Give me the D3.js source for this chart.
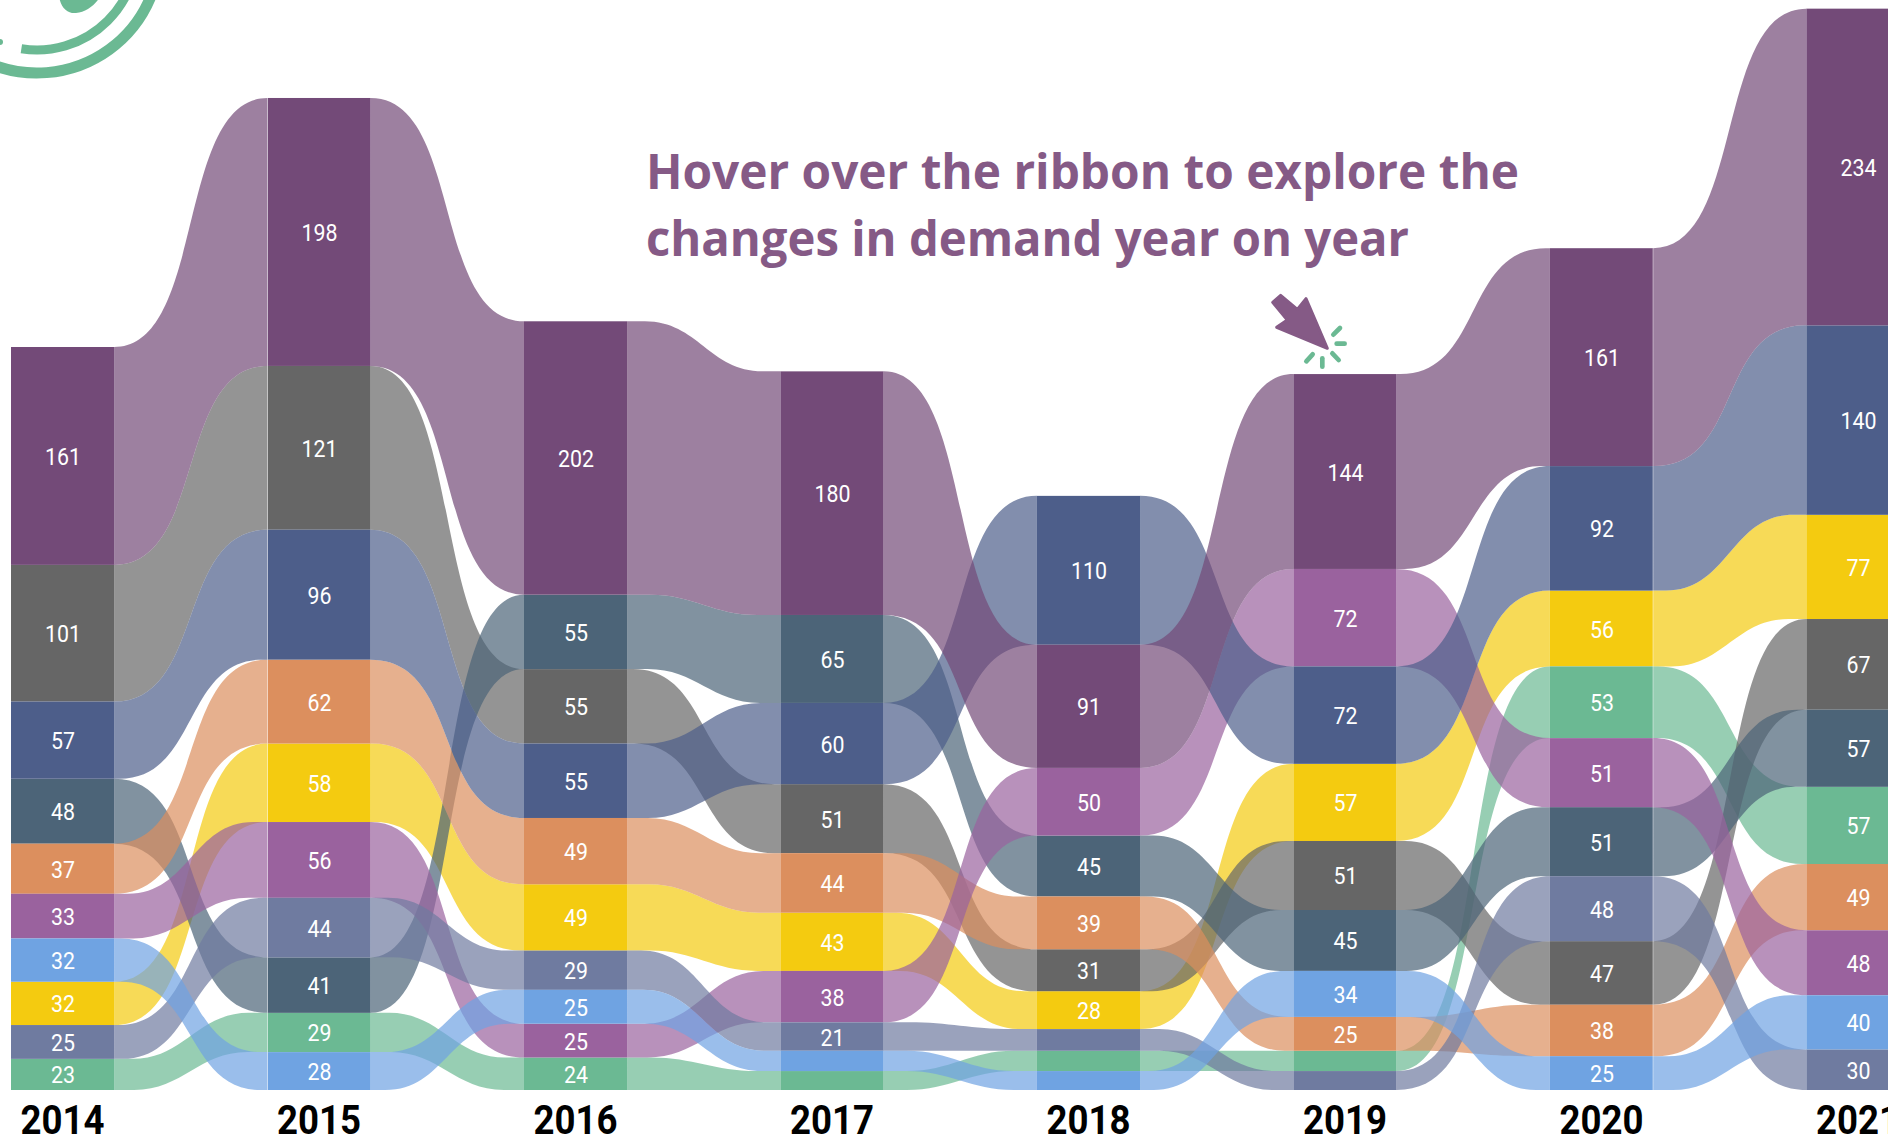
<!DOCTYPE html>
<html><head><meta charset="utf-8">
<script src="https://cdn.jsdelivr.net/npm/d3@7/dist/d3.min.js"></script>
<style>html,body{margin:0;padding:0;background:#fff;overflow:hidden}svg{display:block}</style>
</head><body><svg id="c" width="1888" height="1138"></svg>
<script>
const years = ["2014","2015","2016","2017","2018","2019","2020","2021"];
const seriesKeys = ["H","J","B","D","E","F","I","C","A","G"];
const colors = {A:"#734A78",B:"#666666",C:"#4D5E8A",D:"#4C6478",E:"#DC8F5E",F:"#9A629E",G:"#6FA3E2",H:"#F4CB10",I:"#6F7BA0",J:"#6BB993"};
const valuesA = [161,198,202,180, 91,144,161,234];
const valuesB = [101,121, 55, 51, 31, 51, 47, 67];
const valuesC = [ 57, 96, 55, 60,110, 72, 92,140];
const valuesD = [ 48, 41, 55, 65, 45, 45, 51, 57];
const valuesE = [ 37, 62, 49, 44, 39, 25, 38, 49];
const valuesF = [ 33, 56, 25, 38, 50, 72, 51, 48];
const valuesG = [ 32, 28, 25, 15, 14, 34, 25, 40];
const valuesH = [ 32, 58, 49, 43, 28, 57, 56, 77];
const valuesI = [ 25, 44, 29, 21, 16, 14, 48, 30];
const valuesJ = [ 23, 29, 24, 14, 15, 15, 53, 57];
const values = {A:valuesA,B:valuesB,C:valuesC,D:valuesD,E:valuesE,F:valuesF,G:valuesG,H:valuesH,I:valuesI,J:valuesJ};
const stackOrder = [
 ["A","B","C","D","E","F","G","H","I","J"],
 ["A","B","C","E","H","F","I","D","J","G"],
 ["A","D","B","C","E","H","I","G","F","J"],
 ["A","D","C","B","E","H","F","I","G","J"],
 ["C","A","F","D","E","B","H","I","J","G"],
 ["A","F","C","H","B","D","G","E","J","I"],
 ["A","C","H","J","F","D","I","B","E","G"],
 ["A","C","H","B","D","J","E","F","G","I"]
];
const headingLines = ["Hover over the ribbon to explore the","changes in demand year on year"];
const headingWidths = [873,763];
const labelMin = 20;
const seamYears = [["2015","left"],["2020","right"]];

const svg = d3.select("#c");
const x = d3.scaleBand().domain(years).range([11,1909.5]).paddingInner(0.598).paddingOuter(0);
const y = d3.scaleLinear().domain([0,549]).range([1090,347]);

const pos = years.map((yr,i)=>{
  let acc=0; const m={};
  stackOrder[i].slice().reverse().forEach(k=>{const v=values[k][i]; m[k]={y0:acc,y1:acc+v,v}; acc+=v;});
  return m;
});

function edge(x0,y0,x1,y1){
  const gap=x1-x0, d=Math.abs(y1-y0), mid=(x0+x1)/2;
  const W=Math.min(Math.abs(gap),100+0.36*d)*(Math.sign(gap)||1);
  const xs=mid-W/2, xe=mid+W/2, f=0.38+0.22*Math.min(1,d/150);
  const p=d3.path(); p.moveTo(x0,y0); p.lineTo(xs,y0);
  p.bezierCurveTo(xs+f*W,y0,xe-f*W,y1,xe,y1); p.lineTo(x1,y1);
  return p.toString();
}
const ribbons=[];
seriesKeys.forEach(k=>{ for(let i=0;i<years.length-1;i++){ ribbons.push({k,i}); } });
svg.append("g").selectAll("path").data(ribbons).join("path")
 .attr("fill",d=>colors[d.k]).attr("fill-opacity",0.7)
 .attr("d",d=>{
   const a=pos[d.i][d.k], b=pos[d.i+1][d.k];
   const x0=x(years[d.i])+x.bandwidth(), x1=x(years[d.i+1]);
   const top=edge(x0,y(a.y1),x1,y(b.y1));
   const bot=edge(x1,y(b.y0),x0,y(a.y0)).replace(/^M/,"L");
   return top+bot+"Z";
 });

const nodes=[]; years.forEach((yr,i)=>seriesKeys.forEach(k=>nodes.push({k,i,yr,...pos[i][k]})));
svg.append("g").selectAll("rect").data(nodes).join("rect")
 .attr("x",d=>x(d.yr)).attr("width",x.bandwidth())
 .attr("y",d=>y(d.y1)).attr("height",d=>y(d.y0)-y(d.y1))
 .attr("fill",d=>colors[d.k]);

svg.append("g").selectAll("line").data(seamYears).join("line")
 .attr("x1",d=>x(d[0])+(d[1]==="right"?x.bandwidth():0)).attr("x2",d=>x(d[0])+(d[1]==="right"?x.bandwidth():0))
 .attr("y1",d=>y(d3.max(Object.values(pos[years.indexOf(d[0])]),v=>v.y1))).attr("y2",y(0))
 .attr("stroke","#fff").attr("stroke-opacity",0.45).attr("stroke-width",1);

svg.append("g").selectAll("text").data(nodes.filter(d=>d.v>=labelMin)).join("text")
 .attr("x",d=>x(d.yr)+x.bandwidth()/2+0.5).attr("y",d=>(y(d.y0)+y(d.y1))/2+9)
 .attr("text-anchor","middle").attr("fill","#fff")
 .attr("textLength",d=>String(d.v).length*12).attr("lengthAdjust","spacingAndGlyphs")
 .style("font-family","Roboto,sans-serif").style("font-size","23px")
 .text(d=>d.v);

const ax=svg.append("g").attr("transform","translate(0,1090)").call(d3.axisBottom(x).tickSize(0).tickPadding(15.5));
ax.select(".domain").remove();
ax.selectAll("text").attr("fill","#000").attr("textLength",84).attr("lengthAdjust","spacingAndGlyphs")
 .style("font-family","Roboto,sans-serif").style("font-weight","700").style("font-size","40px");

svg.append("g").selectAll("text").data(headingLines).join("text")
 .attr("x",646).attr("y",(d,i)=>189+i*67)
 .attr("textLength",(d,i)=>headingWidths[i]).attr("lengthAdjust","spacingAndGlyphs")
 .attr("fill","#855A86").style("font-family","'Open Sans',sans-serif").style("font-weight","700").style("font-size","47.7px")
 .text(d=>d);

const logo=svg.append("g").attr("fill","none").attr("stroke","#6BB993").attr("stroke-linecap","round");
logo.append("path").attr("transform","translate(37,-50)").attr("stroke-width",11)
 .attr("d",d3.arc().innerRadius(123).outerRadius(123).startAngle(Math.PI*0.45).endAngle(Math.PI*1.15)());
logo.append("path").attr("transform","translate(37,-50)").attr("stroke-width",9)
 .attr("d",d3.arc().innerRadius(100).outerRadius(100).startAngle(Math.PI*0.45).endAngle(Math.PI*1.05)());
svg.append("path").attr("fill","#6BB993").attr("d","M59,-5 C60,8 68,14 76,13 C86,12 96,5 101,-5 Z");
svg.append("circle").attr("cx",0).attr("cy",42).attr("r",3).attr("fill","#6BB993");

const cur=svg.append("g").attr("transform","translate(1240,270) scale(0.3333)");
cur.append("path").attr("d","M122,76 L172,118 L198,86 L262,235 L110,172 L142,150 L98,97 Z")
 .attr("fill","#855A86").attr("stroke","#855A86").attr("stroke-width",9).attr("stroke-linejoin","round");
cur.selectAll("line").data([[280,194,300,174],[290,221,314,221],[277,250,296,270],[247,265,247,290],[218,253,199,274]]).join("line")
 .attr("x1",d=>d[0]).attr("y1",d=>d[1]).attr("x2",d=>d[2]).attr("y2",d=>d[3])
 .attr("stroke","#6BB993").attr("stroke-width",14).attr("stroke-linecap","round");
</script></body></html>
